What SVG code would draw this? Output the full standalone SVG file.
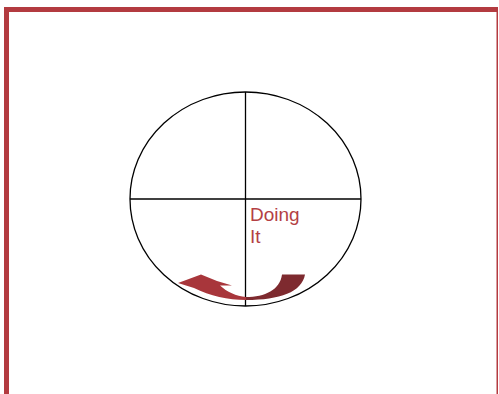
<svg xmlns="http://www.w3.org/2000/svg" width="499" height="394" viewBox="0 0 499 394">
<style>
.frame{fill:#b33b40}
.ln{stroke:#000;stroke-width:1.3;fill:none}
.lbl{font-family:"Liberation Sans",Arial,sans-serif;font-size:19px;fill:#b43f44}
</style>
<rect width="499" height="394" fill="#fff"/>
<g id="frame">
<rect class="frame" x="4" y="7" width="494" height="5"/>
<rect class="frame" x="4" y="7" width="5" height="387"/>
<rect class="frame" x="496.5" y="7" width="1.5" height="387"/>
</g>
<g id="circle">
<ellipse class="ln" cx="245.5" cy="199" rx="115.5" ry="107"/>
</g>
<g id="connectors">
<line class="ln" x1="245.5" y1="92" x2="245.5" y2="306"/>
<line class="ln" x1="130" y1="199" x2="361" y2="199"/>
</g>
<g id="label">
<text class="lbl" x="250" y="220.5">Doing</text>
<text class="lbl" x="250" y="243.3">It</text>
</g>
<g id="arrow">
<path fill="#7e2a2f" d="M246 297 C265 297 280 290 282 274.5 L305 274.5 C302 292 280 300 246 300 Z"/>
<path fill="#a8363b" d="M246 297 C236 296 227 292 220 285.5 L232 285.5 L217 281 L201 274.5 L178 283 L194 288 C210 296 228 300 246 300 Z"/>
</g>
</svg>
